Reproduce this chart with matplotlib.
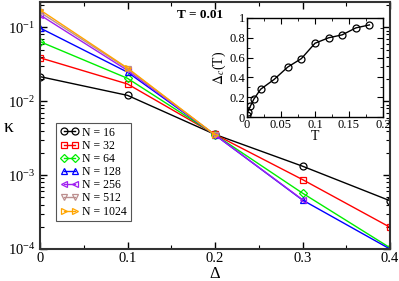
import matplotlib
matplotlib.use("Agg")
import matplotlib.pyplot as plt
import numpy as np
from matplotlib.ticker import MultipleLocator, LogLocator, NullFormatter

plt.rcParams['font.family'] = ['Liberation Serif', 'DejaVu Serif']
plt.rcParams['mathtext.fontset'] = 'stix'

# ---- data ----
sizes = ["16", "32", "64", "128", "256", "512", "1024"]
delta_16 = [0.0, 0.1, 0.2, 0.3, 0.4]
kappa_16 = [0.0215, 0.0120, 0.00355, 0.00132, 0.00045]
delta_32 = [0.0, 0.1, 0.2, 0.3, 0.4]
kappa_32 = [0.0387, 0.0171, 0.00355, 0.00087, 0.000197]
delta_64 = [0.0, 0.1, 0.2, 0.3, 0.4]
kappa_64 = [0.064, 0.0204, 0.00352, 0.00057, 0.000104]
delta_128 = [0.0, 0.1, 0.2, 0.3, 0.4]
kappa_128 = [0.098, 0.0247, 0.0035, 0.00046, 0.0001]
delta_256 = [0.0, 0.1, 0.2, 0.3]
kappa_256 = [0.147, 0.0261, 0.0035, 0.000465]
delta_512 = [0.0, 0.1, 0.2]
kappa_512 = [0.160, 0.0275, 0.0035]
delta_1024 = [0.0, 0.1, 0.2]
kappa_1024 = [0.172, 0.0281, 0.0035]

T_inset = [0.0005, 0.001, 0.005, 0.01, 0.02, 0.04, 0.06, 0.08, 0.1, 0.12, 0.14, 0.16, 0.18]
Dc_inset = [0.02, 0.05, 0.11, 0.18, 0.28, 0.38, 0.505, 0.59, 0.745, 0.80, 0.83, 0.90, 0.93]

series = [
    (delta_16, kappa_16, "black", "o"),
    (delta_32, kappa_32, "red", "s"),
    (delta_64, kappa_64, "#00ee00", "D"),
    (delta_128, kappa_128, "blue", "^"),
    (delta_256, kappa_256, "#a020f0", "<"),
    (delta_512, kappa_512, "#bc8f8f", "v"),
    (delta_1024, kappa_1024, "orange", ">"),
]

fig = plt.figure(figsize=(3.99, 2.81), dpi=100)
ax = fig.add_axes([40/399, 1-249/281, 350/399, 247/281])

for (x, y, c, m), n in zip(series, sizes):
    ms = 4.2 if m == "D" else 5
    ax.plot(x, y, color=c, marker=m, mfc='none', mec=c, ms=ms, mew=0.9, lw=1.0,
            label=f"N = {n}")

ax.set_yscale('log')
ax.set_xlim(0, 0.4)
ax.set_ylim(1e-4, 0.22)
ax.set_xticks([0, 0.1, 0.2, 0.3, 0.4])
ax.set_xticklabels(["0", "0.1", "0.2", "0.3", "0.4"])
ax.xaxis.set_minor_locator(MultipleLocator(0.05))
ax.yaxis.set_major_locator(LogLocator(base=10, numticks=10))
ax.yaxis.set_minor_locator(LogLocator(base=10, subs=np.arange(2, 10), numticks=20))
ax.yaxis.set_minor_formatter(NullFormatter())
ax.tick_params(which='both', direction='in', top=True, right=True, labelsize=10.5)
ax.tick_params(axis='x', pad=2.5)
ax.tick_params(which='major', length=5, width=1)
ax.tick_params(which='minor', length=3, width=0.8)
for s in ax.spines.values():
    s.set_linewidth(1.5)
    s.set_color('#333333')

fig.text(215/399, 1-274/281, "Δ", fontsize=12, ha='center', va='center')
fig.text(9/399, 1-128/281, "κ", fontsize=14, ha='center', va='center')

leg = ax.legend(loc='upper left', bbox_to_anchor=(0.047, 0.51), fontsize=8.5,
                numpoints=2, handlelength=1.6, handletextpad=0.3, labelspacing=0.1,
                borderpad=0.3, fancybox=False, framealpha=1, edgecolor='#555555',
                borderaxespad=0)
leg.get_frame().set_linewidth(0.8)

fig.text(177/399, 1-15/281, "T = 0.01", fontsize=9.5, fontweight='bold', va='center', ha='left')

# inset
ins = fig.add_axes([247/399, 1-117/281, 136/399, 99/281])
ins.plot(T_inset, Dc_inset, color='black', marker='o', mfc='none', mec='black', ms=5, mew=0.9, lw=1.0)
ins.set_xlim(0, 0.2)
ins.set_ylim(0, 1)
ins.set_xticks([0, 0.05, 0.1, 0.15, 0.2])
ins.set_xticklabels(["0", "0.05", "0.1", "0.15", "0.2"])
ins.xaxis.set_minor_locator(MultipleLocator(0.025))
ins.set_yticks([0, 0.2, 0.4, 0.6, 0.8, 1.0])
ins.set_yticklabels(["0", "0.2", "0.4", "0.6", "0.8", "1"])
ins.yaxis.set_minor_locator(MultipleLocator(0.1))
ins.tick_params(which='both', direction='in', top=True, right=True, labelsize=9, pad=1.5)
ins.tick_params(which='major', length=4, width=0.8)
ins.tick_params(which='minor', length=2, width=0.6)
for s in ins.spines.values():
    s.set_linewidth(1.0)
ins.set_xlabel("T", fontsize=10, labelpad=-1)
ins.set_ylabel(r"$\Delta_c$(T)", fontsize=10, labelpad=1)

fig.savefig("out.png", dpi=100)
